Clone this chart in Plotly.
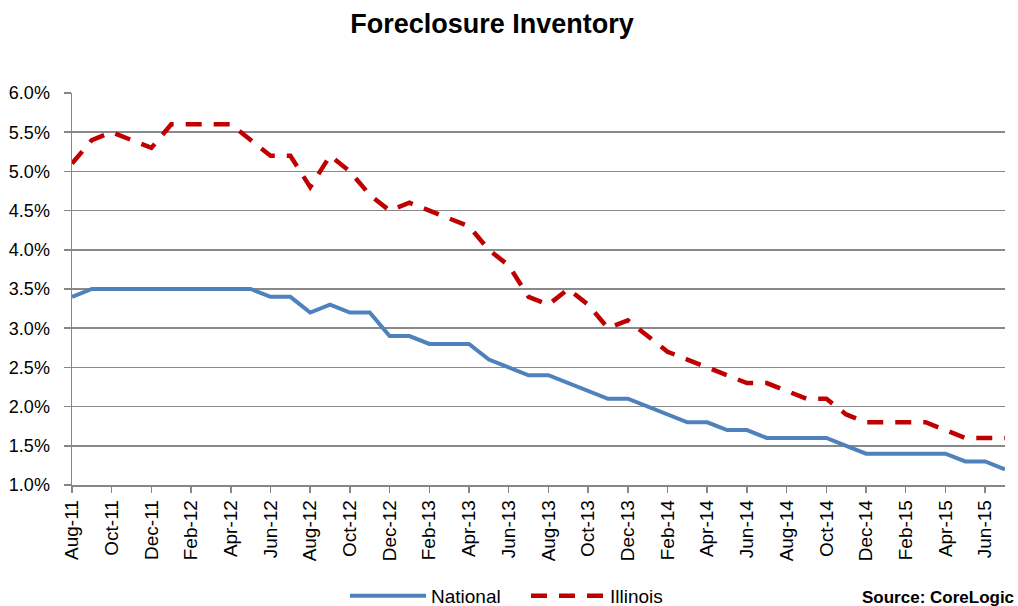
import plotly.graph_objects as go

months = ["Aug-11","Sep-11","Oct-11","Nov-11","Dec-11","Jan-12","Feb-12","Mar-12","Apr-12","May-12","Jun-12","Jul-12",
          "Aug-12","Sep-12","Oct-12","Nov-12","Dec-12","Jan-13","Feb-13","Mar-13","Apr-13","May-13","Jun-13","Jul-13",
          "Aug-13","Sep-13","Oct-13","Nov-13","Dec-13","Jan-14","Feb-14","Mar-14","Apr-14","May-14","Jun-14","Jul-14",
          "Aug-14","Sep-14","Oct-14","Nov-14","Dec-14","Jan-15","Feb-15","Mar-15","Apr-15","May-15","Jun-15","Jul-15"]

national = [3.4,3.5,3.5,3.5,3.5,3.5,3.5,3.5,3.5,3.5,3.4,3.4,
            3.2,3.3,3.2,3.2,2.9,2.9,2.8,2.8,2.8,2.6,2.5,2.4,
            2.4,2.3,2.2,2.1,2.1,2.0,1.9,1.8,1.8,1.7,1.7,1.6,
            1.6,1.6,1.6,1.5,1.4,1.4,1.4,1.4,1.4,1.3,1.3,1.2]

illinois = [5.1,5.4,5.5,5.4,5.3,5.6,5.6,5.6,5.6,5.4,5.2,5.2,
            4.8,5.2,5.0,4.7,4.5,4.6,4.5,4.4,4.3,4.0,3.8,3.4,
            3.3,3.5,3.3,3.0,3.1,2.9,2.7,2.6,2.5,2.4,2.3,2.3,
            2.2,2.1,2.1,1.9,1.8,1.8,1.8,1.8,1.7,1.6,1.6,1.6]

y_ticks = [1.0,1.5,2.0,2.5,3.0,3.5,4.0,4.5,5.0,5.5,6.0]

FONT = "Liberation Sans, Arial, sans-serif"
W, H = 1018, 606
idx = list(range(len(months)))

fig = go.Figure()
fig.add_trace(go.Scatter(x=idx, y=national, mode="lines", name="National",
                         line=dict(color="#4F81BD", width=4), legend="legend"))
fig.add_trace(go.Scatter(x=idx, y=illinois, mode="lines", name="Illinois",
                         line=dict(color="#C00000", width=4.5, dash="16px,12px"), legend="legend2"))

leg_common = dict(orientation="h", xref="container", yref="container",
                  xanchor="left", yanchor="middle", y=1-596/H,
                  font=dict(family=FONT, size=19, color="#000000"),
                  bgcolor="rgba(0,0,0,0)", borderwidth=0)

fig.update_layout(
    width=W, height=H,
    paper_bgcolor="white", plot_bgcolor="white",
    margin=dict(l=72, r=13, t=93, b=121, autoexpand=False),
    font=dict(family=FONT, color="#000000", size=18),
    title=dict(text="<b>Foreclosure Inventory</b>", x=492/W, xanchor="center",
               y=1-24/H, yanchor="middle", yref="container",
               font=dict(family=FONT, size=27, color="#000000")),
    showlegend=True,
    legend=dict(x=345/W, itemwidth=76, **leg_common),
    legend2=dict(x=526/W, itemwidth=74, **leg_common),
    xaxis=dict(range=[0, len(months)-1], tickmode="array",
               tickvals=idx[::2], ticktext=months[::2], tickangle=-90,
               showgrid=False, zeroline=False, automargin=False,
               showline=True, linecolor="#868686", linewidth=1.5,
               ticks="outside", ticklen=6, tickcolor="#868686", tickwidth=1.5,
               tickfont=dict(family=FONT, size=19, color="#000000")),
    yaxis=dict(range=[1.0, 6.0], tickmode="array", tickvals=y_ticks,
               ticktext=[f"{v:.1f}%" for v in y_ticks],
               showgrid=True, gridcolor="#898989", gridwidth=1.5,
               zeroline=False, automargin=False,
               showline=True, linecolor="#868686", linewidth=1.5,
               ticks="outside", ticklen=7, tickcolor="#868686", tickwidth=1.5,
               ticklabelstandoff=10,
               tickfont=dict(family=FONT, size=18, color="#000000")),
)

fig.add_annotation(text="<b>Source: CoreLogic</b>", xref="paper", yref="paper",
                   x=(1016-72)/(W-72-13), xanchor="right",
                   y=-(597-485)/(485-93), yanchor="middle", showarrow=False,
                   font=dict(family=FONT, size=17, color="#000000"))

fig.write_html("out.html", config={"displayModeBar": False, "staticPlot": True},
               post_script="document.body.style.margin='0px';document.body.style.overflow='hidden';")
